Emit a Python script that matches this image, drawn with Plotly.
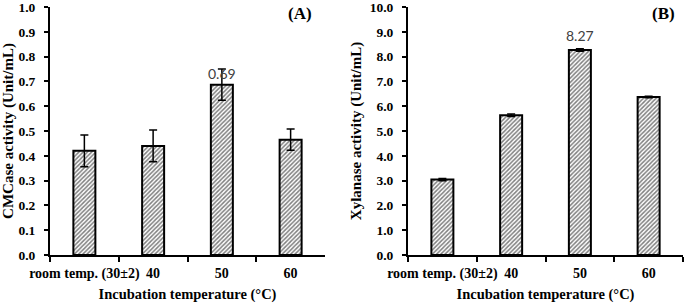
import plotly.graph_objects as go

categories = ["room temp. (30±2)", "40", "50", "60"]
cmcase = [0.42, 0.44, 0.687, 0.465]
cmcase_err = [0.064, 0.064, 0.063, 0.043]
xylanase = [3.04, 5.64, 8.27, 6.37]
xylanase_err = [0.05, 0.05, 0.05, 0.03]
label_a = "0.69"
label_b = "8.27"
peak_idx = 2

FONT = "Liberation Serif"

fig = go.Figure()

def bar(y, err, xa, ya):
    return go.Bar(
        x=categories, y=y, xaxis=xa, yaxis=ya, width=0.32,
        marker=dict(color="white", line=dict(color="black", width=2),
                    pattern=dict(shape="/", fgcolor="#000000", bgcolor="white",
                                 size=3, solidity=0.5)),
        error_y=dict(type="data", array=err, visible=True, color="black",
                     thickness=1.5, width=4),
        showlegend=False, hoverinfo="skip",
    )

fig.add_trace(bar(cmcase, cmcase_err, "x", "y"))
fig.add_trace(bar(xylanase, xylanase_err, "x2", "y2"))

ytickfont = dict(family=FONT, size=13.5, color="black", weight="bold")
xtickfont = dict(family=FONT, size=14, color="black", weight="bold")
xtitlefont = dict(family=FONT, size=14.5, color="black", weight="bold")
ytitlefont = dict(family=FONT, size=15, color="black", weight="bold")

xcommon = dict(type="category", showline=True, linecolor="black", linewidth=2,
               ticks="outside", ticklen=5, tickwidth=1.5, tickcolor="black",
               tickson="boundaries", showgrid=False, zeroline=False,
               tickfont=xtickfont, automargin=False, tickangle=0, ticklabelstandoff=4,
               title=dict(text="Incubation temperature (°C)", font=xtitlefont, standoff=8))
ycommon = dict(showline=True, linecolor="black", linewidth=2, ticks="outside",
               ticklen=4, tickwidth=1.5, tickcolor="black", showgrid=False,
               zeroline=False, tickfont=ytickfont, automargin=False, tickformat=".1f",
               ticklabelstandoff=6, ticklabeloverflow="allow")

ydom = [51/306, 299/306]
fig.update_layout(
    width=685, height=306, margin=dict(l=0, r=0, t=0, b=0),
    plot_bgcolor="white", paper_bgcolor="white",
    font=dict(family=FONT, color="black"),
    xaxis=dict(domain=[50/685, 325/685], anchor="y", range=[-0.5, 3.5], **xcommon),
    yaxis=dict(domain=ydom, anchor="x", range=[0, 1.0001], dtick=0.1,
               title=dict(text="CMCase activity (Unit/mL)", font=ytitlefont, standoff=4),
               **ycommon),
    xaxis2=dict(domain=[408/685, 683/685], anchor="y2", range=[-0.5, 3.5], **xcommon),
    yaxis2=dict(domain=ydom, anchor="x2", range=[0, 10.001], dtick=1.0,
                title=dict(text="Xylanase activity (Unit/mL)", font=ytitlefont, standoff=4),
                **ycommon),
)

fig.add_annotation(x=peak_idx, y=cmcase[peak_idx], xref="x", yref="y",
                   text=label_a, showarrow=False, yanchor="bottom", yshift=1,
                   font=dict(family="Lato", size=14, color="#404040"))
fig.add_annotation(x=peak_idx, y=xylanase[peak_idx], xref="x2", yref="y2",
                   text=label_b, showarrow=False, yanchor="bottom", yshift=4,
                   font=dict(family="Lato", size=14, color="#404040"))

fig.add_annotation(x=300/685, y=1 - 14/306, xref="paper", yref="paper", text="(A)",
                   showarrow=False, xanchor="center", yanchor="middle",
                   font=dict(family=FONT, size=17, color="black", weight="bold"))
fig.add_annotation(x=663/685, y=1 - 14/306, xref="paper", yref="paper", text="(B)",
                   showarrow=False, xanchor="center", yanchor="middle",
                   font=dict(family=FONT, size=17, color="black", weight="bold"))

fig.write_html("out.html", config={"displayModeBar": False},
               post_script="document.body.style.margin='0';document.body.style.overflow='hidden';")
